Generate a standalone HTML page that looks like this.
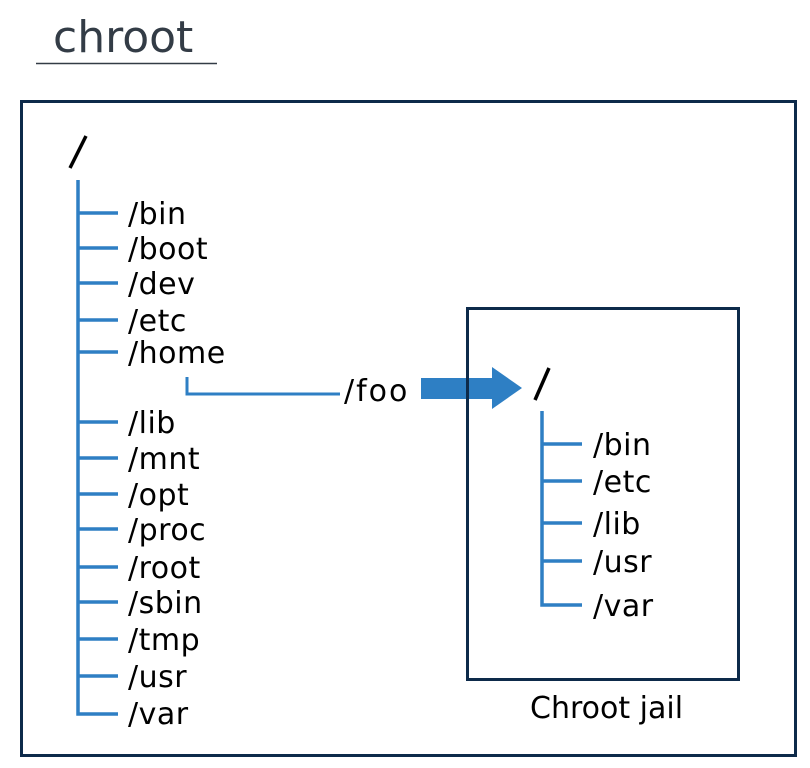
<!DOCTYPE html>
<html><head><meta charset="utf-8"><style>html,body{margin:0;padding:0;background:#fff}svg{display:block}</style></head>
<body>
<svg width="810" height="768" viewBox="0 0 810 768" xmlns="http://www.w3.org/2000/svg" font-family="'DejaVu Sans', 'Liberation Sans', sans-serif">
<text x="53" y="52" font-size="44" fill="#333c46">chroot</text>
<line x1="36" y1="63.5" x2="217" y2="63.5" stroke="#333c46" stroke-width="1.5"/>
<rect x="21.5" y="101.5" width="774" height="654" fill="none" stroke="#0d2a4a" stroke-width="3"/>
<line x1="86" y1="136" x2="70" y2="168" stroke="#000" stroke-width="3.5"/>
<g stroke="#2e7fc4" stroke-width="3.5" fill="none">
<polyline points="78,180 78,714 118,714"/>
<line x1="78" y1="213" x2="118" y2="213"/>
<line x1="78" y1="248" x2="118" y2="248"/>
<line x1="78" y1="283" x2="118" y2="283"/>
<line x1="78" y1="320" x2="118" y2="320"/>
<line x1="78" y1="352" x2="118" y2="352"/>
<line x1="78" y1="422" x2="118" y2="422"/>
<line x1="78" y1="458" x2="118" y2="458"/>
<line x1="78" y1="494" x2="118" y2="494"/>
<line x1="78" y1="529" x2="118" y2="529"/>
<line x1="78" y1="567" x2="118" y2="567"/>
<line x1="78" y1="602" x2="118" y2="602"/>
<line x1="78" y1="639" x2="118" y2="639"/>
<line x1="78" y1="676" x2="118" y2="676"/>
<polyline points="187,377 187,394 340,394" stroke-width="3"/>
<polyline points="542,411 542,605 582,605"/>
<line x1="542" y1="444" x2="582" y2="444"/>
<line x1="542" y1="481" x2="582" y2="481"/>
<line x1="542" y1="523" x2="582" y2="523"/>
<line x1="542" y1="561" x2="582" y2="561"/>
</g>
<g font-size="30" fill="#000" letter-spacing="0.5">
<text x="128" y="224">/bin</text>
<text x="128" y="259">/boot</text>
<text x="128" y="294">/dev</text>
<text x="128" y="331">/etc</text>
<text x="128" y="363">/home</text>
<text x="128" y="433">/lib</text>
<text x="128" y="469">/mnt</text>
<text x="128" y="505">/opt</text>
<text x="128" y="540">/proc</text>
<text x="128" y="578">/root</text>
<text x="128" y="613">/sbin</text>
<text x="128" y="650">/tmp</text>
<text x="128" y="687">/usr</text>
<text x="128" y="724">/var</text>
<text x="344" y="401" letter-spacing="2">/foo</text>
<text x="593" y="455">/bin</text>
<text x="593" y="492">/etc</text>
<text x="593" y="534">/lib</text>
<text x="593" y="572">/usr</text>
<text x="593" y="616">/var</text>
<text x="530" y="718" letter-spacing="0">Chroot jail</text>
</g>
<polygon points="421,378 492,378 492,367 522,388 492,409 492,399 421,399" fill="#2e7fc4"/>
<rect x="467.5" y="308.5" width="271" height="371" fill="none" stroke="#0d2a4a" stroke-width="3"/>
<line x1="549" y1="368" x2="535" y2="400" stroke="#000" stroke-width="3.5"/>
</svg>
</body></html>
